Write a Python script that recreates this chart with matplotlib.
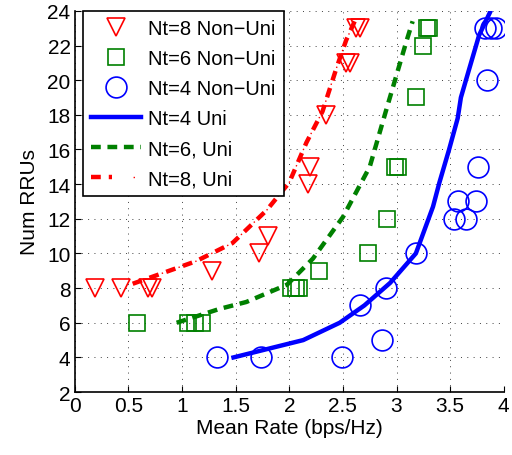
import matplotlib
matplotlib.use("Agg")
import matplotlib.pyplot as plt
from matplotlib.legend_handler import HandlerTuple

plt.rcParams['font.family'] = ['Liberation Sans', 'DejaVu Sans']

# Non-uniform scatter data
nt8_x = [0.19, 0.43, 0.68, 0.72, 1.28, 1.72, 1.80, 2.17, 2.19, 2.34, 2.53, 2.57, 2.62, 2.66]
nt8_y = [8, 8, 8, 8, 9, 10, 11, 14, 15, 18, 21, 21, 23, 23]
nt6_x = [0.58, 1.06, 1.12, 1.19, 2.02, 2.06, 2.09, 2.28, 2.73, 2.91, 2.99, 3.01, 3.18, 3.25, 3.28, 3.30]
nt6_y = [6, 6, 6, 6, 8, 8, 8, 9, 10, 12, 15, 15, 19, 22, 23, 23]
nt4_x = [1.33, 1.74, 2.49, 2.86, 2.66, 2.90, 3.18, 3.54, 3.65, 3.57, 3.74, 3.76, 3.84, 3.82, 3.88, 3.93]
nt4_y = [4, 4, 4, 5, 7, 8, 10, 12, 12, 13, 13, 15, 20, 23, 23, 23]

# Uniform curves
uni4_x = [1.48, 2.13, 2.47, 2.70, 2.94, 3.18, 3.34, 3.40, 3.49, 3.57, 3.60, 3.68, 3.77, 3.87]
uni4_y = [4, 5, 6, 7, 8.3, 10, 12.7, 14.1, 16.0, 17.8, 19.0, 20.7, 22.6, 23.9]
uni6_x = [0.95, 1.35, 1.60, 1.98, 2.22, 2.50, 2.75, 2.90, 3.00, 3.09, 3.15]
uni6_y = [6, 6.8, 7.2, 8.2, 9.7, 12.1, 15.0, 18.2, 20.3, 22.2, 23.4]
uni8_x = [0.54, 1.13, 1.47, 1.79, 2.00, 2.16, 2.31, 2.44, 2.53, 2.61]
uni8_y = [8.25, 9.55, 10.6, 12.5, 14.1, 16.4, 18.2, 20.7, 22.3, 23.4]

xticks = [0, 0.5, 1, 1.5, 2, 2.5, 3, 3.5, 4]
xticklabels = ['0', '0.5', '1', '1.5', '2', '2.5', '3', '3.5', '4']
yticks = list(range(2, 25, 2))

fig = plt.figure(figsize=(5.12, 4.56), dpi=100)
ax = fig.add_axes([0.146, 0.138, 0.838, 0.836])

red, green, blue = (1, 0, 0), (0, 0.5, 0), (0, 0, 1)

h8, = ax.plot(nt8_x, nt8_y, linestyle='none', marker='v', markersize=13.5, markerfacecolor='none',
              markeredgecolor=red, markeredgewidth=1.2)
h6, = ax.plot(nt6_x, nt6_y, linestyle='none', marker='s', markersize=12, markerfacecolor='none',
              markeredgecolor=green, markeredgewidth=1.2)
h4, = ax.plot(nt4_x, nt4_y, linestyle='none', marker='o', markersize=15, markerfacecolor='none',
              markeredgecolor=blue, markeredgewidth=1.2)
l4, = ax.plot(uni4_x, uni4_y, color=blue, linewidth=3.2, linestyle='-')
l6, = ax.plot(uni6_x, uni6_y, color=green, linewidth=3.2, linestyle=(0, (2.2, 1.5)))
# dash-dot: thick dashes with thin dots in between
lw_thick = 3.2
dash, gap = 2.2, 1.8
period = (dash + gap) * lw_thick
dot_start = dash * lw_thick + (gap * lw_thick - 1.0) / 2
l8a, = ax.plot(uni8_x, uni8_y, color=red, linewidth=lw_thick, linestyle=(0, (dash, gap)))
l8b, = ax.plot(uni8_x, uni8_y, color=red, linewidth=1.0,
               linestyle=(period - dot_start, (1.0, period - 1.0)))

ax.set_xlim(0, 4)
ax.set_ylim(2, 24)
ax.set_xticks(xticks)
ax.set_xticklabels(xticklabels)
ax.set_yticks(yticks)
ax.tick_params(direction='in', labelsize=15, length=4, width=0.8, pad=3)
ax.spines['top'].set_visible(False)
ax.spines['right'].set_visible(False)
ax.spines['left'].set_linewidth(1.2)
ax.spines['bottom'].set_linewidth(1.2)
ax.grid(True, linestyle=(0, (1, 5.5)), color='0.25', linewidth=0.7)
ax.set_axisbelow(True)

ax.set_xlabel('Mean Rate (bps/Hz)', fontsize=15, labelpad=2)
ax.set_ylabel('Num RRUs', fontsize=15, labelpad=6)

leg = ax.legend([h8, h6, h4, l4, l6, (l8a, l8b)],
                ['Nt=8 Non\u2212Uni', 'Nt=6 Non\u2212Uni', 'Nt=4 Non\u2212Uni',
                 'Nt=4 Uni', 'Nt=6, Uni', 'Nt=8, Uni'],
                handler_map={tuple: HandlerTuple(ndivide=None)},
                loc='upper left', fontsize=14.5, frameon=True, fancybox=False,
                edgecolor='black', framealpha=1, borderaxespad=0,
                handlelength=2.5, handletextpad=0.35, labelspacing=0.55,
                borderpad=0.4, bbox_to_anchor=(0.019, 1.0))
leg.get_frame().set_linewidth(1.2)

fig.savefig('out.png', dpi=100)
